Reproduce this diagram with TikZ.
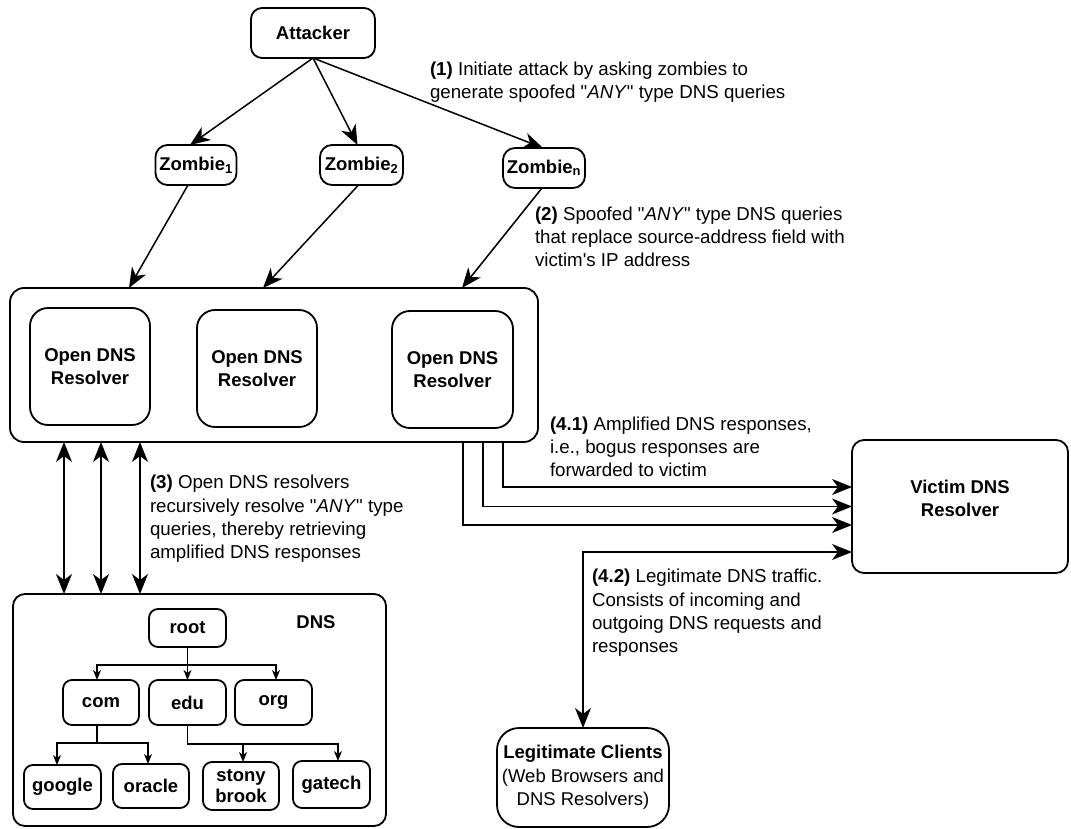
\documentclass[tikz,border=0pt]{standalone}
\usepackage{fontspec}
\setmainfont{Liberation Sans}[Ligatures=TeXOff]
\usetikzlibrary{arrows.meta,calc}
\begin{document}
\begin{tikzpicture}[x=1pt,y=-1pt,
  every node/.style={inner sep=0pt, outer sep=0pt},
  bx/.style={draw, line width=1.8pt, rounded corners=11pt, align=center, font=\fontsize{18.5}{23}\selectfont\bfseries},
  tbox/.style={bx, minimum width=77pt, minimum height=44pt, rounded corners=9pt, font=\fontsize{18.5}{21}\selectfont\bfseries},
  frame/.style={draw, line width=1.8pt, rounded corners=14pt},
  txt/.style={align=left, anchor=west, font=\fontsize{18.7}{23.3}\selectfont},
  arr/.style={line width=1.5pt, -{Stealth[length=20pt,width=16pt,inset=6pt]}},
  barr/.style={line width=1.5pt, {Stealth[length=20pt,width=16pt,inset=6pt]}-{Stealth[length=20pt,width=16pt,inset=6pt]}},
  tarr/.style={line width=1.3pt, -{Stealth[length=10pt,width=8pt,inset=3pt]}}
]
\useasboundingbox (0,0) rectangle (1071,829);

% top
\node[bx, minimum width=124pt, minimum height=50pt] (att) at (313,33) {Attacker};
\node[bx, minimum width=81pt, minimum height=40pt, rounded corners=12pt] (z1) at (196,165) {Zombie\textsubscript{1}};
\node[bx, minimum width=83pt, minimum height=40pt, rounded corners=12pt] (z2) at (361.5,165) {Zombie\textsubscript{2}};
\node[bx, minimum width=82pt, minimum height=40pt, rounded corners=12pt] (zn) at (544,168) {Zombie\textsubscript{n}};

% resolvers
\node[frame, minimum width=528pt, minimum height=154pt] (outer) at (274,365) {};
\node[bx, minimum width=120pt, minimum height=117pt, rounded corners=18pt] (r1) at (90,366.5) {Open DNS\\Resolver};
\node[bx, minimum width=120pt, minimum height=117pt, rounded corners=18pt] (r2) at (257,368.5) {Open DNS\\Resolver};
\node[bx, minimum width=121pt, minimum height=117pt, rounded corners=18pt] (r3) at (452.5,369.5) {Open DNS\\Resolver};

% DNS hierarchy
\node[frame, rounded corners=12pt, minimum width=373pt, minimum height=232pt] (dns) at (199.5,710) {};
\node[font=\fontsize{18.5}{23}\selectfont\bfseries] (dnslbl) at (316,622) {DNS};
\node[tbox, minimum height=38pt] (root) at (187.5,628) {root};
\node[tbox, minimum width=76pt, minimum height=45pt] (com) at (101,702.5) {com};
\node[tbox, minimum height=45pt] (edu) at (187.5,702.5) {edu};
\node[tbox, minimum height=45pt] (org) at (273.5,702.5) {org};
\node[tbox] (google) at (62.5,787) {google};
\node[tbox, minimum width=76pt] (oracle) at (151,786) {oracle};
\node[tbox, minimum width=76pt, minimum height=48pt] (stony) at (241,786) {stony\\brook};
\node[tbox, minimum height=47pt] (gatech) at (331.5,784.5) {gatech};

% victim and clients
\node[frame, rounded corners=12pt, minimum width=216pt, minimum height=133pt] (victim) at (960,506.5) {};
\node[align=center, font=\fontsize{18.5}{23}\selectfont\bfseries] (victimlbl) at (960,498) {Victim DNS\\Resolver};
\node[bx, minimum width=172pt, minimum height=99pt, rounded corners=22pt, font=\fontsize{18.5}{23.5}\selectfont] (legit) at (583,777.5) {\textbf{Legitimate Clients}\\(Web Browsers and\\DNS Resolvers)};

% texts
\node[txt] (t1) at (430,82) {\textbf{(1)} Initiate attack by asking zombies to\\generate spoofed "\textit{ANY}" type DNS queries};
\node[txt] (t2) at (535,237) {\textbf{(2)} Spoofed "\textit{ANY}" type DNS queries\\that replace source-address field with\\victim's IP address};
\node[txt] (t3) at (150,519) {\textbf{(3)} Open DNS resolvers\\recursively resolve "\textit{ANY}" type\\queries, thereby retrieving\\amplified DNS responses};
\node[txt] (t41) at (550,447) {\textbf{(4.1)} Amplified DNS responses,\\i.e., bogus responses are\\forwarded to victim};
\node[txt] (t42) at (592,613) {\textbf{(4.2)} Legitimate DNS traffic.\\Consists of incoming and\\outgoing DNS requests and\\responses};

% attacker to zombies
\draw[arr] (att.south) -- ([xshift=-6pt]z1.north);
\draw[arr] (att.south) -- ([xshift=-4pt]z2.north);
\draw[arr] (att.south) -- ([xshift=-1pt]zn.north);

% zombies to resolvers
\draw[arr] ([xshift=-8pt]z1.south) -- ([xshift=119pt]outer.north west);
\draw[arr] ([xshift=-3pt]z2.south) -- ([xshift=253pt]outer.north west);
\draw[arr] ([xshift=-2pt]zn.south) -- ([xshift=452pt]outer.north west);

% resolvers <-> DNS
\draw[barr] ([xshift=54pt]outer.south west) -- ([xshift=51pt]dns.north west);
\draw[barr] ([xshift=91pt]outer.south west) -- ([xshift=88pt]dns.north west);
\draw[barr] ([xshift=130pt]outer.south west) -- ([xshift=127pt]dns.north west);

% resolvers to victim
\draw[arr] ([xshift=493pt]outer.south west) |- ([yshift=19.5pt]victim.west);
\draw[arr] ([xshift=473pt]outer.south west) |- (victim.west);
\draw[arr] ([xshift=453pt]outer.south west) |- ([yshift=-18.5pt]victim.west);

% victim <-> clients
\draw[barr] ([yshift=-45.5pt]victim.west) -| (legit.north);

% tree edges
\draw[tarr] (root.south) -- ++(0,18) -| ([xshift=-4pt]com.north);
\draw[tarr] (root.south) -- (edu.north);
\draw[tarr] (root.south) -- ++(0,18) -| ([xshift=2.5pt]org.north);
\draw[tarr] ([xshift=-4pt]com.south) -- ++(0,18) -| ([xshift=-5.5pt]google.north);
\draw[tarr] ([xshift=-4pt]com.south) -- ++(0,18) -| ([xshift=-3pt]oracle.north);
\draw[tarr] (edu.south) -- ++(0,19) -| ([xshift=2pt]stony.north);
\draw[tarr] (edu.south) -- ++(0,19) -| ([xshift=6.5pt]gatech.north);
\end{tikzpicture}
\end{document}
